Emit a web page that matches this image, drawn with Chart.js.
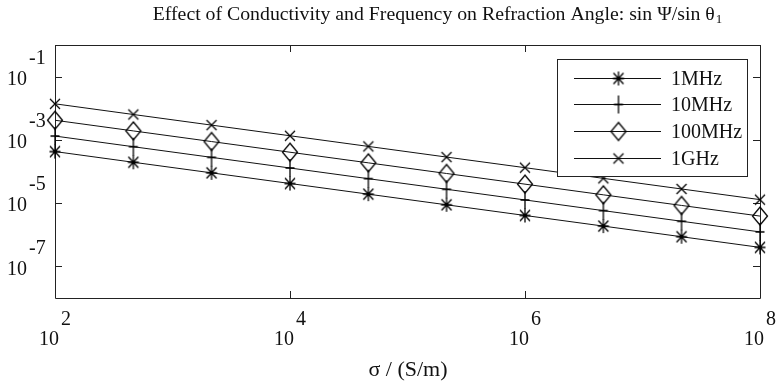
<!DOCTYPE html>
<html><head><meta charset="utf-8">
<script src="https://cdn.jsdelivr.net/npm/chart.js@4.4.0/dist/chart.umd.min.js"></script>
<style>html,body{margin:0;padding:0;background:#fff}#wrap{width:779px;height:385px;position:relative}</style>
</head><body><div id="wrap"><canvas id="c"></canvas></div>
<script>
// ---- data ----
const sigma = [1e2, 4.64e2, 2.15e3, 1e4, 4.64e4, 2.15e5, 1e6, 4.64e6, 2.15e7, 1e8];
const seriesNames = ['1MHz', '10MHz', '100MHz', '1GHz'];
const ratio1MHz   = [4.27e-4, 1.96e-4, 9.06e-5, 4.17e-5, 1.92e-5, 8.85e-6, 4.07e-6, 1.88e-6, 8.65e-7, 3.98e-7];
const ratio10MHz  = [1.32e-3, 6.07e-4, 2.80e-4, 1.29e-4, 5.93e-5, 2.74e-5, 1.26e-5, 5.79e-6, 2.67e-6, 1.23e-6];
const ratio100MHz = [4.17e-3, 1.92e-3, 8.85e-4, 4.07e-4, 1.88e-4, 8.65e-5, 3.98e-5, 1.83e-5, 8.45e-6, 3.89e-6];
const ratio1GHz   = [1.38e-2, 6.35e-3, 2.93e-3, 1.35e-3, 6.21e-4, 2.86e-4, 1.32e-4, 6.07e-5, 2.80e-5, 1.29e-5];
const xTickExps = [2, 4, 6, 8];
const yTickExps = [-1, -3, -5, -7];
const titleText = 'Effect of Conductivity and Frequency on Refraction Angle: sin \u03A8/sin \u03B8';
const titleSub = '1';
const xLabel = '\u03C3 / (S/m)';

const INK = '#000';
const FONT = '"Liberation Serif", "Times New Roman", serif';

function makeMarker(kind) {
  const c = document.createElement('canvas');
  c.width = 24; c.height = 24;
  const g = c.getContext('2d');
  g.strokeStyle = INK; g.lineWidth = 1.3;
  g.translate(12, 12);
  g.beginPath();
  if (kind === 'asterisk') {
    g.moveTo(0, -7); g.lineTo(0, 7);
    g.moveTo(-5.5, 0); g.lineTo(5.5, 0);
    g.moveTo(-5, -5.5); g.lineTo(5, 5.5);
    g.moveTo(-5, 5.5); g.lineTo(5, -5.5);
  } else if (kind === 'plus') {
    g.moveTo(0, -9); g.lineTo(0, 9);
    g.moveTo(-4.5, 0); g.lineTo(4.5, 0);
  } else if (kind === 'diamond') {
    g.moveTo(0, -9); g.lineTo(7.5, 0); g.lineTo(0, 9); g.lineTo(-7.5, 0); g.closePath();
  } else {
    g.moveTo(-5, -5); g.lineTo(5, 5);
    g.moveTo(-5, 5); g.lineTo(5, -5);
  }
  g.stroke();
  return c;
}
const markers = [makeMarker('asterisk'), makeMarker('plus'), makeMarker('diamond'), makeMarker('x')];
const seriesValues = [ratio1MHz, ratio10MHz, ratio100MHz, ratio1GHz];

const datasets = seriesNames.map((name, i) => ({
  label: name,
  data: sigma.map((s, j) => ({ x: s, y: seriesValues[i][j] })),
  borderColor: '#111',
  backgroundColor: INK,
  borderWidth: 1,
  tension: 0,
  pointStyle: markers[i],
  pointRadius: 6,
  clip: false
}));

const decorPlugin = {
  id: 'decor',
  beforeDatasetsDraw(chart) {
    const { ctx, chartArea: a, scales } = chart;
    ctx.save();
    ctx.strokeStyle = '#222'; ctx.lineWidth = 1;
    ctx.beginPath();
    ctx.rect(Math.round(a.left) + 0.5, Math.round(a.top) + 0.5, Math.round(a.right - a.left), Math.round(a.bottom - a.top));
    ctx.stroke();
    const tl = 7;
    ctx.beginPath();
    xTickExps.forEach(e => {
      const x = Math.round(scales.x.getPixelForValue(Math.pow(10, e))) + 0.5;
      ctx.moveTo(x, a.bottom); ctx.lineTo(x, a.bottom - tl);
      ctx.moveTo(x, a.top); ctx.lineTo(x, a.top + tl);
    });
    yTickExps.forEach(e => {
      const y = Math.round(scales.y.getPixelForValue(Math.pow(10, e))) + 0.5;
      ctx.moveTo(a.left, y); ctx.lineTo(a.left + tl, y);
      ctx.moveTo(a.right, y); ctx.lineTo(a.right - tl, y);
    });
    ctx.stroke();

    ctx.fillStyle = '#111';
    ctx.font = '20px ' + FONT;
    ctx.textBaseline = 'middle';
    // y tick labels
    yTickExps.forEach(e => {
      const y = scales.y.getPixelForValue(Math.pow(10, e));
      ctx.textAlign = 'right';
      ctx.fillText('10', a.left - 28, y + 3);
      ctx.textAlign = 'left';
      ctx.fillText(String(e), a.left - 26, y - 18);
    });
    // x tick labels
    xTickExps.forEach(e => {
      const x = scales.x.getPixelForValue(Math.pow(10, e));
      const w10 = ctx.measureText('10').width;
      const ws = ctx.measureText(String(e)).width;
      const start = x - (w10 + 2 + ws) / 2;
      ctx.textAlign = 'left';
      ctx.fillText('10', start, a.bottom + 42);
      ctx.fillText(String(e), start + w10 + 2, a.bottom + 22);
    });
    // x axis label
    ctx.font = '22px ' + FONT;
    ctx.textAlign = 'center';
    ctx.fillText(xLabel, 408, a.bottom + 72);
    // title
    ctx.font = '19.8px ' + FONT;
    const wt = ctx.measureText(titleText).width;
    ctx.font = '13px ' + FONT;
    const wsub = ctx.measureText(titleSub).width;
    const tx = 437 - (wt + wsub) / 2;
    ctx.font = '19.8px ' + FONT;
    ctx.textAlign = 'left';
    ctx.fillText(titleText, tx, 15);
    ctx.font = '13px ' + FONT;
    ctx.fillText(titleSub, tx + wt + 1, 20);
    ctx.restore();
  },
  afterDatasetsDraw(chart) {
    const { ctx } = chart;
    ctx.save();
    const bx = 557.5, by = 59.5, bw = 190, bh = 117;
    ctx.fillStyle = '#fff';
    ctx.fillRect(bx, by, bw, bh);
    ctx.strokeStyle = '#222'; ctx.lineWidth = 1;
    ctx.strokeRect(bx, by, bw, bh);
    ctx.font = '20px ' + FONT;
    ctx.textBaseline = 'middle';
    ctx.textAlign = 'left';
    ctx.fillStyle = '#111';
    chart.data.datasets.forEach((ds, i) => {
      const y = Math.round(77.7 + i * 26.7) + 0.5;
      ctx.strokeStyle = '#111';
      ctx.beginPath();
      ctx.moveTo(574, y); ctx.lineTo(661, y);
      ctx.stroke();
      const m = ds.pointStyle;
      ctx.drawImage(m, 618 - m.width / 2 + 0.5, y - m.height / 2);
      ctx.fillText(ds.label, 671, y + 1);
    });
    ctx.restore();
  }
};

new Chart(document.getElementById('c'), {
  type: 'line',
  data: { datasets },
  options: {
    responsive: true,
    maintainAspectRatio: false,
    animation: false,
    events: [],
    layout: { padding: { left: 55, right: 19, top: 45, bottom: 87 } },
    plugins: { legend: { display: false }, title: { display: false }, tooltip: { enabled: false } },
    scales: {
      x: { type: 'logarithmic', min: 1e2, max: 1e8, display: false },
      y: { type: 'logarithmic', min: 1e-8, max: 1, display: false }
    }
  },
  plugins: [decorPlugin]
});
</script>
</body></html>
